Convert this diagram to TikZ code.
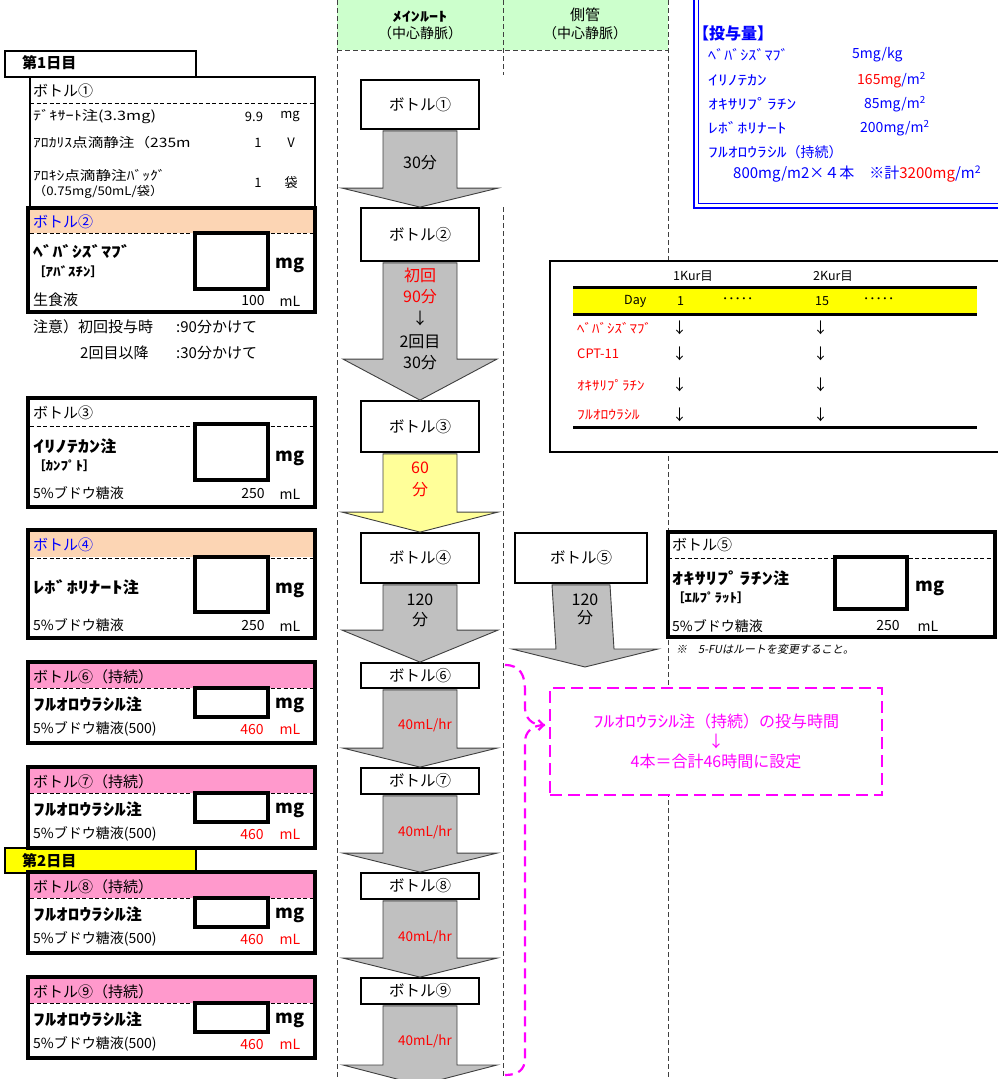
\documentclass[tikz,border=0pt]{standalone}
\usepackage{fontspec}
\usepackage{graphicx}
\setmainfont{Noto Sans CJK JP}
\newfontfamily\slantjp[FakeSlant=0.2]{Noto Sans CJK JP}
\usetikzlibrary{arrows.meta,positioning}
\definecolor{routegreen}{HTML}{CCFFCC}
\definecolor{headpeach}{HTML}{FCD5B4}
\definecolor{headpink}{HTML}{FF99CC}
\definecolor{flowgray}{HTML}{C0C0C0}
\definecolor{flowyellow}{HTML}{FFFF99}
\definecolor{dayyellow}{HTML}{FFFF00}
\definecolor{dosblue}{HTML}{0000FF}
\definecolor{notepink}{HTML}{FF00FF}
\definecolor{warnred}{HTML}{FF0000}
\definecolor{routeink}{HTML}{404040}

\newcommand\fsz[1]{\fontsize{#1}{#1}\selectfont}
\newcommand\hw[2][1.4]{\scalebox{#1}[1]{#2}}
% fat arrow: fill, from node, tip, head height, shaft half width, head half width
\newcommand\fatdown[6][flowgray]{%
  \draw[fatline,fill=#1] ([xshift=-#5,yshift=-1pt]#2.south) -- ([xshift=#5,yshift=-1pt]#2.south)
    -- ([xshift=#5,yshift=#4]#3) -- ([xshift=#6,yshift=#4]#3) -- (#3)
    -- ([xshift=-#6,yshift=#4]#3) -- ([xshift=-#5,yshift=#4]#3) -- cycle;}

\begin{document}
\begin{tikzpicture}[x=1pt,y=-1pt,>=Stealth,
  card/.style={line width=4.5pt},
  cardhead/.style={dash pattern=on 4pt off 2.5pt,line width=.8pt},
  inbox/.style={draw,line width=4pt,fill=white},
  lbl/.style={anchor=west,inner sep=0pt},
  num/.style={inner sep=0pt,font=\fsz{14}},
  mbox/.style={draw,line width=1.8pt,fill=white,minimum width=118pt,inner sep=0pt,font=\fsz{15.5}},
  fatline/.style={draw=routeink,line width=.9pt},
  arrtxt/.style={inner sep=0pt,font=\fsz{16}},
  route/.style={draw=routeink,line width=.9pt,dash pattern=on 5pt off 3pt},
  dose/.style={anchor=west,inner sep=0pt,text=dosblue,font=\fsz{14}},
  sched/.style={anchor=west,inner sep=0pt,font=\fsz{12.5}},
  drug/.style={anchor=west,inner sep=0pt,text=warnred,font=\fsz{13}},
  brace/.style={draw=notepink,line width=2.2pt,dash pattern=on 10pt off 6pt},
  notebox/.style={draw=notepink,line width=2.5pt,dash pattern=on 12pt off 6pt,fill=white,
    minimum width=332pt,minimum height=107pt,align=center,text=notepink,
    font=\fontsize{16}{20}\selectfont}
]
\useasboundingbox (0,0) rectangle (997,1079);

% route columns
\fill[routegreen] (337,0) rectangle (668,50);
\draw[route] (337,0) -- (337,1079);
\draw[route] (503,0) -- (503,75);
\draw[route] (503,207) -- (503,1079);
\draw[route] (668,0) -- (668,1079);
\draw[route] (337,50) -- (668,50);
\node[font=\bfseries\fsz{13},inner sep=0pt] (mainhd) at (420,17) {\hw{ﾒｲﾝﾙｰﾄ}};
\node[font=\fsz{14},inner sep=0pt] (mainsub) at (420,33) {（中心静脈）};
\node[font=\fsz{15},inner sep=0pt] (sidehd) at (585,15) {側管};
\node[font=\fsz{14},inner sep=0pt] (sidesub) at (585,33) {（中心静脈）};

% day 1
\draw[line width=1.5pt] (5,51) rectangle (196,77);
\node[lbl,font=\bfseries\fsz{15}] (day1) at (22,63) {第1日目};

% bottle 1
\draw[line width=1.8pt] (30,77) rectangle (315,208);
\node[lbl,font=\fsz{15}] (c1title) at (33,91) {ボトル①};
\draw[cardhead] (30,103) -- (315,103);
\node[lbl,font=\fsz{13}] (c1r1) at (33,117) {\hw[1.25]{ﾃﾞｷｻｰﾄ注(3.3mg)}};
\node[num,font=\fsz{13}] (c1v1) at (254,117) {9.9};
\node[num,font=\fsz{13}] (c1u1) at (290,117) {mg};
\node[lbl,font=\fsz{13}] (c1r2) at (33,143) {\hw[1.2]{ｱﾛｶﾘｽ点滴静注（235m}};
\node[num,font=\fsz{13}] (c1v2) at (258,143) {1};
\node[num,font=\fsz{13}] (c1u2) at (291,143) {V};
\node[lbl,font=\fsz{13}] (c1r3) at (33,175) {\hw[1.2]{ｱﾛｷｼ点滴静注ﾊﾞｯｸﾞ}};
\node[lbl,font=\fsz{12}] (c1r3b) at (33,192) {\hw[1.1]{（0.75mg/50mL/袋）}};
\node[num,font=\fsz{13}] (c1v3) at (258,183) {1};
\node[num,font=\fsz{13}] (c1u3) at (291,183) {袋};

% bottle 2
\fill[headpeach] (30,210) rectangle (313,233);
\draw[cardhead] (30,233) -- (313,233);
\draw[inbox] (195,233) rectangle (268,289);
\draw[card] (28,208) rectangle (315,312);
\node[lbl,font=\fsz{15},text=dosblue] (c2title) at (33,222) {ボトル②};
\node[lbl,font=\bfseries\fsz{15}] (c2drug) at (33,252) {\hw[1.3]{ﾍﾞﾊﾞｼｽﾞﾏﾌﾞ}};
\node[lbl,font=\bfseries\fsz{12.5}] (c2brand) at (33,272) {［\hw[1.2]{ｱﾊﾞｽﾁﾝ}］};
\node[num,font=\bfseries\fsz{18}] (c2mg) at (290,265) {mg};
\node[lbl,font=\fsz{15}] (c2base) at (33,300) {生食液};
\node[num] (c2vol) at (253,301) {100};
\node[num] (c2ml) at (290,301) {mL};
\node[lbl,font=\fsz{15}] (note1a) at (33,327) {注意）初回投与時};
\node[lbl,font=\fsz{15}] (note1b) at (176,327) {:90分かけて};
\node[lbl,font=\fsz{15}] (note2a) at (80,353) {2回目以降};
\node[lbl,font=\fsz{15}] (note2b) at (176,353) {:30分かけて};

% bottle 3
\draw[cardhead] (30,426) -- (313,426);
\draw[inbox] (195,424) rectangle (268,480);
\draw[card] (28,398) rectangle (315,507);
\node[lbl,font=\fsz{15}] (c3title) at (33,413) {ボトル③};
\node[lbl,font=\bfseries\fsz{16}] (c3drug) at (33,446) {\hw{ｲﾘﾉﾃｶﾝ}注};
\node[lbl,font=\bfseries\fsz{12.5}] (c3brand) at (33,466) {［\hw[1.2]{ｶﾝﾌﾟﾄ}］};
\node[num,font=\bfseries\fsz{18}] (c3mg) at (290,458) {mg};
\node[lbl] (c3base) at (33,493) {\fsz{14}5\%ブドウ糖液};
\node[num] (c3vol) at (253,494) {250};
\node[num] (c3ml) at (290,494) {mL};

% bottle 4
\fill[headpeach] (30,532) rectangle (313,557);
\draw[cardhead] (30,558) -- (313,558);
\draw[inbox] (195,557) rectangle (268,612);
\draw[card] (28,530) rectangle (315,638);
\node[lbl,font=\fsz{15},text=dosblue] (c4title) at (33,545) {ボトル④};
\node[lbl,font=\bfseries\fsz{16}] (c4drug) at (33,587) {\hw{ﾚﾎﾞﾎﾘﾅｰﾄ}注};
\node[num,font=\bfseries\fsz{18}] (c4mg) at (290,590) {mg};
\node[lbl] (c4base) at (33,625) {\fsz{14}5\%ブドウ糖液};
\node[num] (c4vol) at (253,626) {250};
\node[num] (c4ml) at (290,626) {mL};

% day 2
\draw[line width=1.5pt,fill=dayyellow] (5,848) rectangle (196,873);
\node[lbl,font=\bfseries\fsz{15}] (day2) at (22,861) {第2日目};

% bottles 6-9 (continuous)
\foreach \y/\c/\n in {662/⑥/6,767/⑦/7,872/⑧/8,977/⑨/9}{
  \fill[headpink] (30,\y+2) rectangle (313,\y+26);
  \draw[cardhead] (30,\y+26) -- (313,\y+26);
  \draw[inbox] (195,\y+26) rectangle (268,\y+55);
  \draw[card] (28,\y) rectangle (315,\y+81);
  \node[lbl,font=\fsz{15}] (fu\n title) at (33,\y+15) {ボトル\c（持続）};
  \node[lbl,font=\bfseries\fsz{16}] (fu\n drug) at (33,\y+42) {\hw[1.45]{ﾌﾙｵﾛｳﾗｼﾙ}注};
  \node[num,font=\bfseries\fsz{18}] (fu\n mg) at (290,\y+43) {mg};
  \node[lbl] (fu\n base) at (33,\y+67) {\fsz{14}5\%ブドウ糖液(500)};
  \node[num,text=warnred] (fu\n vol) at (252,\y+67) {460};
  \node[num,text=warnred] (fu\n ml) at (290,\y+67) {mL};
}

% main route
\node[mbox,minimum height=49pt] (m1) at (420,104.5) {ボトル①};
\node[mbox,minimum height=53pt] (m2) at (420,234.5) {ボトル②};
\node[mbox,minimum height=51pt] (m3) at (420,426.5) {ボトル③};
\node[mbox,minimum height=50pt] (m4) at (420,558) {ボトル④};
\node[mbox,minimum width=132pt,minimum height=50pt] (m5) at (581,558) {ボトル⑤};
\node[mbox,minimum height=25pt] (m6) at (420,675.5) {ボトル⑥};
\node[mbox,minimum height=26pt] (m7) at (420,781) {ボトル⑦};
\node[mbox,minimum height=26pt] (m8) at (420,886) {ボトル⑧};
\node[mbox,minimum height=26pt] (m9) at (420,991) {ボトル⑨};
\coordinate (tip5) at (585,667);
\coordinate (tip9) at (420,1085);

\fatdown{m1}{m2.north}{19pt}{37pt}{78pt}
\fatdown{m2}{m3.north}{41pt}{37pt}{77pt}
\fatdown[flowyellow]{m3}{m4.north}{20pt}{37pt}{78pt}
\fatdown{m4}{m6.north}{32pt}{37pt}{78pt}
\fatdown{m5}{tip5}{18pt}{29pt}{73pt}
\fatdown{m6}{m7.north}{19pt}{37pt}{77pt}
\fatdown{m7}{m8.north}{19pt}{37pt}{77pt}
\fatdown{m8}{m9.north}{19pt}{37pt}{77pt}
\fatdown{m9}{tip9}{20pt}{37pt}{77pt}

\node[arrtxt] (a1t) at (420,163) {30分};
\node[arrtxt,text=warnred] (a2t1) at (420,275) {初回};
\node[arrtxt,text=warnred] (a2t2) at (420,297) {90分};
\node[arrtxt] (a2t3) at (420,318) {↓};
\node[arrtxt] (a2t4) at (420,342) {2回目};
\node[arrtxt] (a2t5) at (420,363) {30分};
\node[arrtxt,text=warnred] (a3t1) at (420,468) {60};
\node[arrtxt,text=warnred] (a3t2) at (420,490) {分};
\node[arrtxt] (a4t1) at (420,600) {120};
\node[arrtxt] (a4t2) at (420,620) {分};
\node[arrtxt] (a5t1) at (585,600) {120};
\node[arrtxt] (a5t2) at (585,618) {分};
\foreach \y [count=\i from 6] in {725,832,937,1041}
  \node[arrtxt,font=\fsz{13.5},text=warnred] (rate\i) at (425,\y) {40mL/hr};

% schedule table
\draw[line width=2pt,fill=white] (550,261) rectangle (1010,452);
\node[sched] (kur1) at (673,276) {1Kur目};
\node[sched] (kur2) at (813,276) {2Kur目};
\fill[dayyellow] (573,287) rectangle (977,314);
\draw[line width=3pt] (573,287) -- (977,287);
\draw[line width=3pt] (573,314) -- (977,314);
\draw[line width=3pt] (573,427) -- (977,427);
\node[sched] (dayhd) at (624,301) {Day};
\node[sched] (dayone) at (677,301) {1};
\node[sched] (dotsa) at (722,301) {･････};
\node[sched] (dayfif) at (815,301) {15};
\node[sched] (dotsb) at (863,301) {･････};
\node[drug] (sbev) at (577,328) {\hw[1.15]{ﾍﾞﾊﾞｼｽﾞﾏﾌﾞ}};
\node[drug] (scpt) at (577,354) {CPT-11};
\node[drug] (soxa) at (577,385) {\hw[1.15]{ｵｷｻﾘﾌﾟﾗﾁﾝ}};
\node[drug] (sfu) at (577,415) {\hw[1.2]{ﾌﾙｵﾛｳﾗｼﾙ}};
\foreach \y [count=\i] in {328,354,385,415}{
  \node[sched,font=\fsz{15}] (dna\i) at (672,\y) {↓};
  \node[sched,font=\fsz{15}] (dnb\i) at (813,\y) {↓};
}

% bottle 5 (side line)
\fill[white] (668,532) rectangle (995,637);
\draw[cardhead] (668,558) -- (995,558);
\draw[inbox] (835,557) rectangle (907,609);
\draw[card] (668,532) rectangle (995,637);
\node[lbl,font=\fsz{15}] (c5title) at (672,545) {ボトル⑤};
\node[lbl,font=\bfseries\fsz{16}] (c5drug) at (672,578) {\hw{ｵｷｻﾘﾌﾟﾗﾁﾝ}注};
\node[lbl,font=\bfseries\fsz{12.5}] (c5brand) at (672,598) {［\hw[1.2]{ｴﾙﾌﾟﾗｯﾄ}］};
\node[num,font=\bfseries\fsz{18}] (c5mg) at (930,588) {mg};
\node[lbl] (c5base) at (672,626) {\fsz{14}5\%ブドウ糖液};
\node[num] (c5vol) at (888,626) {250};
\node[num] (c5ml) at (928,626) {mL};
\node[lbl] (warn) at (676,649) {\slantjp\fsz{11}※　5-FUはルートを変更すること。};

% dose summary
\draw[dosblue,line width=2.5pt] (694,-10) -- (694,208) -- (1010,208);
\draw[dosblue,line width=1pt] (698.5,-10) -- (698.5,203.5) -- (1010,203.5);
\node[dose,font=\bfseries\fsz{16}] (dosehd) at (693,33) {【投与量】};
\node[dose] (dose1n) at (708,55) {\hw[1.15]{ﾍﾞﾊﾞｼｽﾞﾏﾌﾞ}};
\node[dose] (dose1v) at (852,55) {5mg/kg};
\node[dose] (dose2n) at (708,80) {\hw{ｲﾘﾉﾃｶﾝ}};
\node[dose] (dose2v) at (857,80) {\textcolor{warnred}{165mg}/m\textsuperscript{2}};
\node[dose] (dose3n) at (708,104) {\hw{ｵｷｻﾘﾌﾟﾗﾁﾝ}};
\node[dose] (dose3v) at (864,104) {85mg/m\textsuperscript{2}};
\node[dose] (dose4n) at (708,128) {\hw{ﾚﾎﾞﾎﾘﾅｰﾄ}};
\node[dose] (dose4v) at (860,128) {200mg/m\textsuperscript{2}};
\node[dose] (dose5n) at (708,152) {\hw{ﾌﾙｵﾛｳﾗｼﾙ}（持続）};
\node[dose,font=\fsz{15}] (dose5v) at (733,174) {800mg/m2×４本　※計\textcolor{warnred}{3200mg}/m\textsuperscript{2}};

% 5-FU note and brace
\node[notebox] (funote) at (716,741.5) {\hw[1.35]{ﾌﾙｵﾛｳﾗｼﾙ}注（持続）の投与時間\\↓\\4本＝合計46時間に設定};
\coordinate (bracetop) at (505,665);
\coordinate (bracetip) at (545,725);
\coordinate (bracebot) at (505,1075);
\draw[brace,-{Straight Barb[length=5pt,width=10pt]}] (bracetop) .. controls (520,665) and (525,675) .. (525,690)
  -- (525,708) .. controls (525,718) and (532,725) .. (bracetip);
\draw[brace] (bracetip) .. controls (532,725) and (525,732) .. (525,742)
  -- (525,1058) .. controls (525,1070) and (518,1075) .. (bracebot);
\end{tikzpicture}
\end{document}
